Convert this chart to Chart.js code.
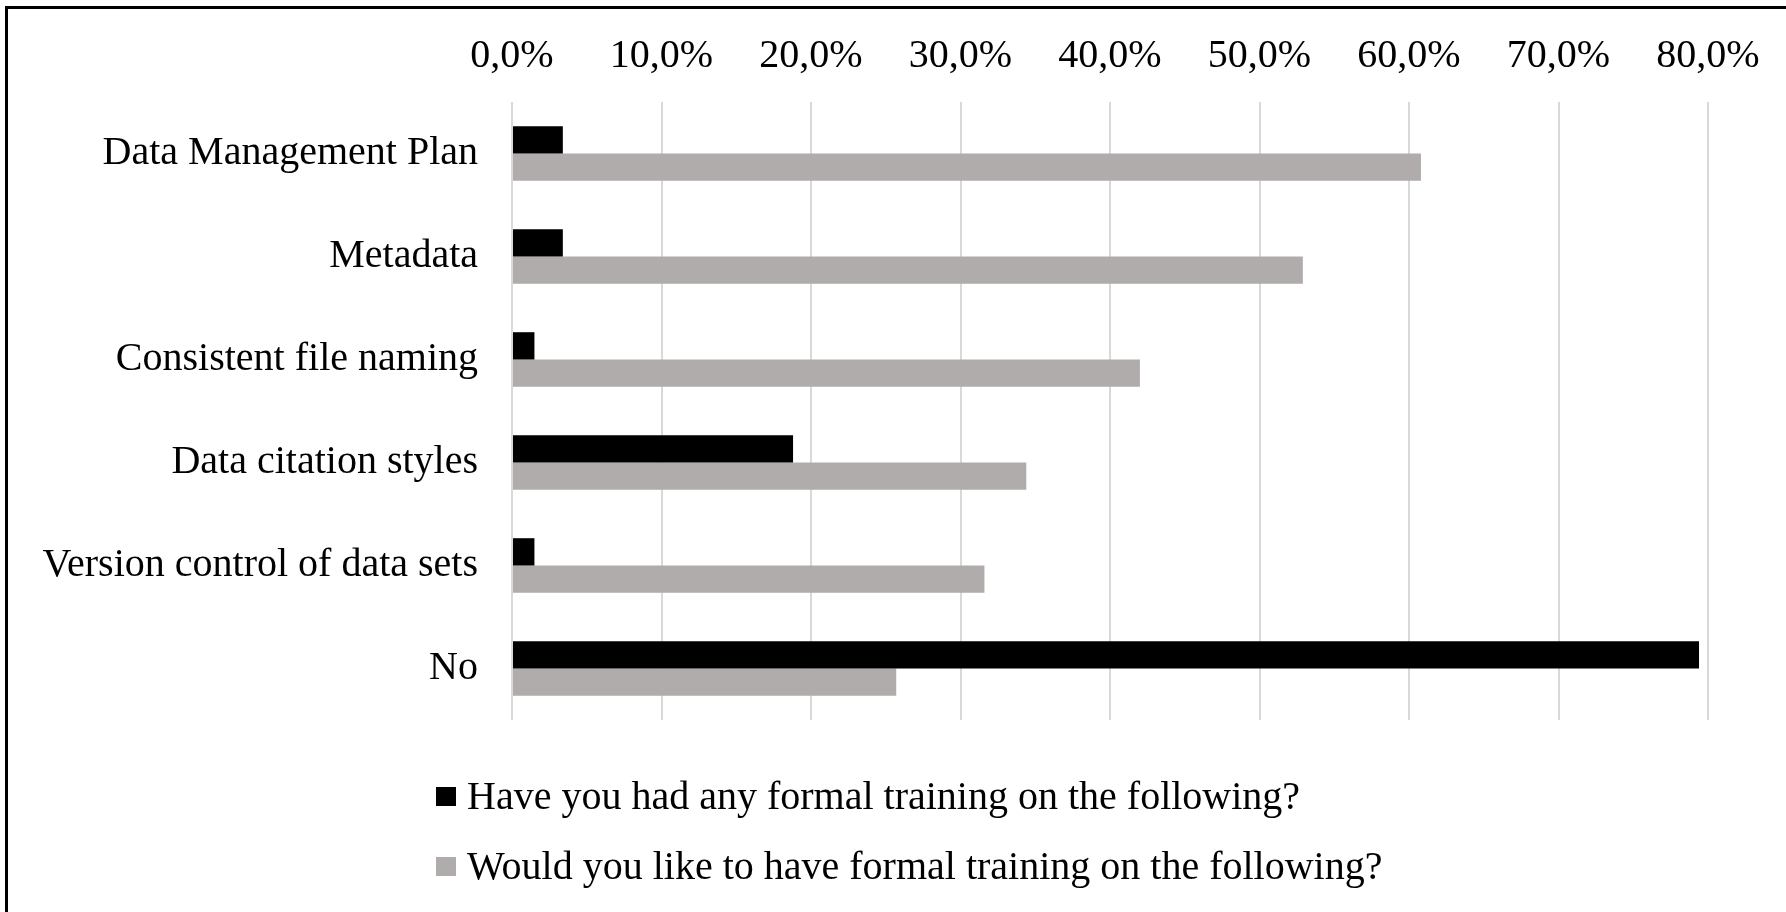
<!DOCTYPE html>
<html>
<head>
<meta charset="utf-8">
<script src="https://cdn.jsdelivr.net/npm/chart.js@4/dist/chart.umd.min.js"></script>
<style>
  html, body { margin: 0; padding: 0; background: #fff; overflow: hidden; }
  #wrap { position: relative; width: 1786px; height: 912px; }
  #frame { position: absolute; left: 5px; top: 6px; width: 2000px; height: 2000px;
    border-left: 3px solid #000; border-top: 3px solid #000; pointer-events: none; }
  #legend { position: absolute; left: 436px; top: 761px; font: 40px "Liberation Serif", "Times New Roman", serif; color: #000; }
  #legend .item { display: flex; align-items: center; height: 70px; line-height: 44px; }
  #legend .box { width: 20px; height: 19px; margin-right: 11px; }
</style>
</head>
<body>
<div id="wrap">
  <canvas id="chart" width="1786" height="912"></canvas>
  <div id="frame"></div>
  <div id="legend"></div>
</div>
<script>
const categories = [
  'Data Management Plan',
  'Metadata',
  'Consistent file naming',
  'Data citation styles',
  'Version control of data sets',
  'No',
];
const hadTraining = [3.4, 3.4, 1.5, 18.8, 1.5, 79.4];
const wouldLikeTraining = [60.8, 52.9, 42.0, 34.4, 31.6, 25.7];
const seriesLabels = [
  'Have you had any formal training on the following?',
  'Would you like to have formal training on the following?',
];
const seriesColors = ['#000000', '#afacab'];
const tickMax = 80;
const tickStep = 10;

const fontFamily = '"Liberation Serif", "Times New Roman", serif';

const context = document.getElementById('chart').getContext('2d');

const chart = new Chart(context, {
  type: 'bar',
  data: {
    labels: categories,
    datasets: [
      {label: seriesLabels[0], data: hadTraining, backgroundColor: seriesColors[0]},
      {label: seriesLabels[1], data: wouldLikeTraining, backgroundColor: seriesColors[1]},
    ],
  },
  options: {
    indexAxis: 'y',
    responsive: false,
    animation: false,
    layout: {
      padding: {left: 0, top: 0, right: 78, bottom: 192},
    },
    datasets: {
      bar: {categoryPercentage: 0.53, barPercentage: 1},
    },
    plugins: {
      legend: {display: false},
      title: {display: false},
      tooltip: {enabled: false},
    },
    scales: {
      x: {
        position: 'top',
        min: 0,
        max: tickMax,
        afterFit: (scale) => { scale.height = 102; },
        ticks: {
          stepSize: tickStep,
          padding: 22,
          color: '#000',
          font: {family: fontFamily, size: 40},
          callback: (value) => value.toFixed(1).replace('.', ',') + '%',
        },
        grid: {color: '#d9d9d9', lineWidth: 2, drawTicks: false},
        border: {display: false},
      },
      y: {
        afterFit: (scale) => { scale.width = 512; },
        ticks: {
          padding: 34,
          color: '#000',
          font: {family: fontFamily, size: 40},
        },
        grid: {display: false, drawTicks: false},
        border: {display: false},
      },
    },
  },
});

// legend stacked in one column, like the original
const legendWrapper = document.getElementById('legend');
legendWrapper.innerHTML = chart.data.datasets.map((ds) =>
  '<div class="item"><span class="box" style="background:' + ds.backgroundColor + '"></span>' + ds.label + '</div>'
).join('');
</script>
</body>
</html>
